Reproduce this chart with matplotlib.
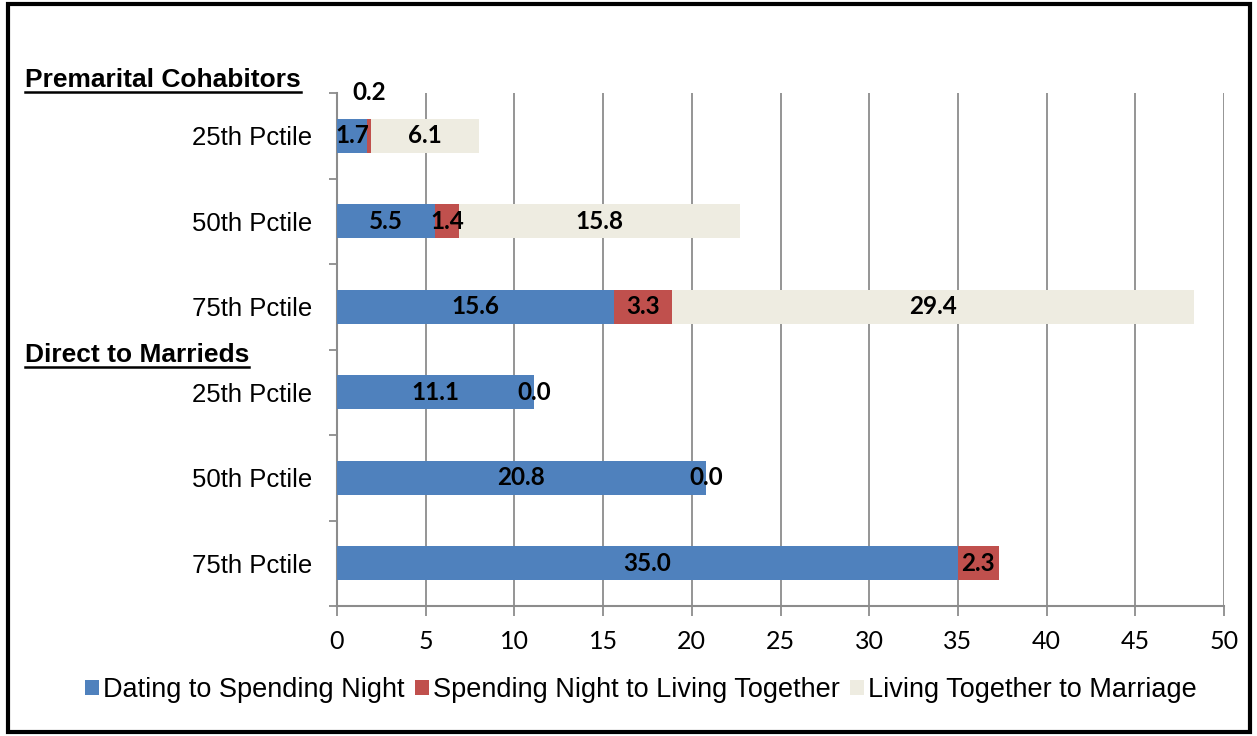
"""
Stacked horizontal bars: time spent in each relationship stage,
premarital cohabitors vs. direct-to-married couples.
"""

import matplotlib

matplotlib.use("Agg")
import matplotlib.pyplot as plt
from matplotlib.lines import Line2D
from matplotlib.patches import Rectangle

# data, top to bottom as drawn
categories = ["25th Pctile", "50th Pctile", "75th Pctile",
              "25th Pctile", "50th Pctile", "75th Pctile"]
groups = ["Premarital Cohabitors", "Direct to Marrieds"]
series_names = ["Dating to Spending Night",
                "Spending Night to Living Together",
                "Living Together to Marriage"]
dating = [1.7, 5.5, 15.6, 11.1, 20.8, 35.0]
spending = [0.2, 1.4, 3.3, 0.0, 0.0, 2.3]
living = [6.1, 15.8, 29.4, None, None, None]
x_ticks = [0, 5, 10, 15, 20, 25, 30, 35, 40, 45, 50]

COLORS = ["#4F81BD", "#C0504D", "#EEECE1"]
GRID = "#8C8C8C"
LABEL_FONT = ["Liberation Sans", "DejaVu Sans"]
NUM_FONT = ["Lato", "DejaVu Sans"]

fig = plt.figure(figsize=(12.57, 7.36), dpi=100)
ax = fig.add_axes([337 / 1257, 1 - 606 / 736, (1224 - 337) / 1257, (606 - 93) / 736])

n = len(categories)
ypos = list(range(n))
series = [dating, spending, living]
left = [0.0] * n
for vals, color, name in zip(series, COLORS, series_names):
    widths = [v if v is not None else 0.0 for v in vals]
    ax.barh(ypos, widths, left=left, height=0.4, color=color,
            edgecolor="none", label=name, zorder=3)
    for i, v in enumerate(vals):
        if v is None:
            continue
        cx = left[i] + v / 2
        # tiny segment: label sits above the bar
        cy = ypos[i] - 0.5 if 0 < v < 0.5 else ypos[i]
        ax.text(cx, cy, f"{v:.1f}", ha="center", va="center",
                fontsize=17.5, fontweight="bold", family=NUM_FONT, zorder=5)
    left = [l + w for l, w in zip(left, widths)]

ax.set_xlim(0, 50)
ax.set_ylim(n - 0.5, -0.5)
ax.set_xticks(x_ticks)
ax.set_xticklabels([str(t) for t in x_ticks], family=NUM_FONT, fontsize=18)
ax.set_yticks(ypos)
ax.set_yticklabels(categories, family=LABEL_FONT, fontsize=18.5)
ax.set_yticks([i - 0.5 for i in range(n + 1)], minor=True)
ax.tick_params(axis="y", which="major", length=0, pad=18)
ax.tick_params(axis="y", which="minor", length=6, color=GRID, width=1.3)
ax.tick_params(axis="x", length=7, color=GRID, width=1.3, pad=10)

ax.grid(axis="x", color=GRID, linewidth=1.3, zorder=0)
for s in ["top", "right"]:
    ax.spines[s].set_visible(False)
for s in ["left", "bottom"]:
    ax.spines[s].set_color(GRID)
    ax.spines[s].set_linewidth(1.5)

# group headings, underlined
heads = []
for g, ypix in zip(groups, [87, 362]):
    t = fig.text(25 / 1257, 1 - ypix / 736, g, fontsize=19, fontweight="bold",
                 family=LABEL_FONT, ha="left", va="baseline")
    heads.append(t)
fig.canvas.draw()
renderer = fig.canvas.get_renderer()
for t in heads:
    bb = t.get_window_extent(renderer).transformed(fig.transFigure.inverted())
    x0, y0 = t.get_position()
    fig.add_artist(Line2D([bb.x0, bb.x1], [y0 - 5 / 736, y0 - 5 / 736],
                          transform=fig.transFigure, color="black", linewidth=1.8))

fig.legend(loc="center", bbox_to_anchor=(641 / 1257, 1 - 690 / 736), ncol=3,
           frameon=False, handlelength=0.5, handleheight=0.5,
           handletextpad=0.15, columnspacing=0.4,
           prop={"family": LABEL_FONT, "size": 19.5})

fig.add_artist(Rectangle((8 / 1257, 4 / 736), 1242 / 1257, 728 / 736,
                         transform=fig.transFigure, fill=False,
                         edgecolor="black", linewidth=3))

fig.savefig("out.png", dpi=100)
plt.close(fig)
